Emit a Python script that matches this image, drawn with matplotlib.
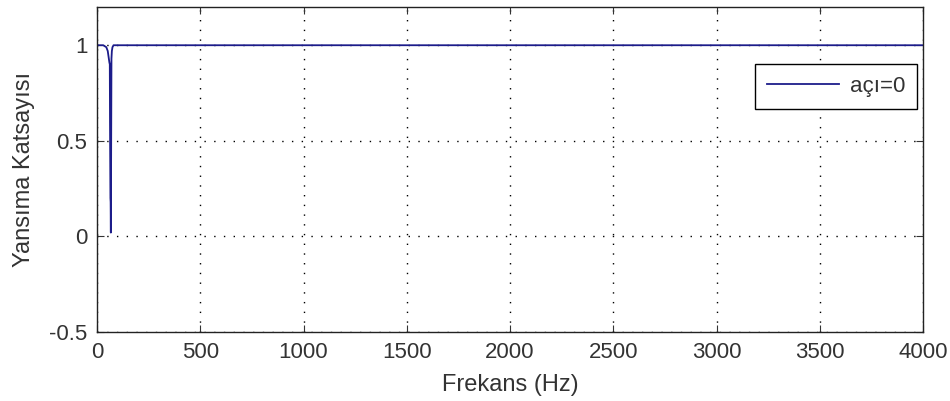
"""
Reflection coefficient vs frequency (MATLAB-style plot)
"""
import matplotlib
matplotlib.use("Agg")
import matplotlib.pyplot as plt

# frequency (Hz) and reflection coefficient
frekans = [0, 30, 45, 52, 56, 60, 62, 63, 64, 65, 66, 67, 68, 70, 72, 75, 80, 4000]
yansima = [1.0, 1.0, 0.99, 0.97, 0.94, 0.91, 0.90, 0.60, 0.40, 0.20, 0.18, 0.02, 0.30,
           0.93, 0.97, 0.99, 1.0, 1.0]

x_ticks = [0, 500, 1000, 1500, 2000, 2500, 3000, 3500, 4000]
y_ticks = [-0.5, 0, 0.5, 1]
y_tick_labels = ["-0.5", "0", "0.5", "1"]


def main():
    plt.rcParams["font.family"] = ["Liberation Sans", "DejaVu Sans"]
    fig = plt.figure(figsize=(9.5, 4.01), dpi=100)
    ax = fig.add_axes([97 / 950, 1 - 332 / 401, (923 - 97) / 950, (332 - 7) / 401])

    ax.plot(frekans, yansima, color="#1c1c8a", lw=1.3, label="açı=0")

    ax.set_xlim(0, 4000)
    ax.set_ylim(-0.5, 1.2)
    ax.set_xticks(x_ticks)
    ax.set_yticks(y_ticks)
    ax.set_yticklabels(y_tick_labels)
    ax.grid(True, color="black", linestyle=(0, (1, 6)), linewidth=1.0)
    ax.tick_params(direction="in", length=5, labelsize=16, colors="#333333",
                   top=True, right=True)
    ax.tick_params(axis="x", pad=7)
    ax.tick_params(axis="y", pad=7)
    for s in ax.spines.values():
        s.set_linewidth(1.0)
        s.set_color("#222222")

    ax.set_xlabel("Frekans (Hz)", fontsize=17, color="#333333", labelpad=8)
    ax.set_ylabel("Yansıma Katsayısı", fontsize=17, color="#333333", labelpad=10)

    leg = ax.legend(loc="upper right", bbox_to_anchor=(0.993, 0.825), fontsize=16,
                    fancybox=False, framealpha=1, edgecolor="black",
                    handlelength=3.2, borderpad=0.55, handletextpad=0.5,
                    borderaxespad=0)
    leg.get_frame().set_linewidth(1.0)
    for t in leg.get_texts():
        t.set_color("#333333")

    fig.savefig("out.png", dpi=100)


if __name__ == "__main__":
    main()
